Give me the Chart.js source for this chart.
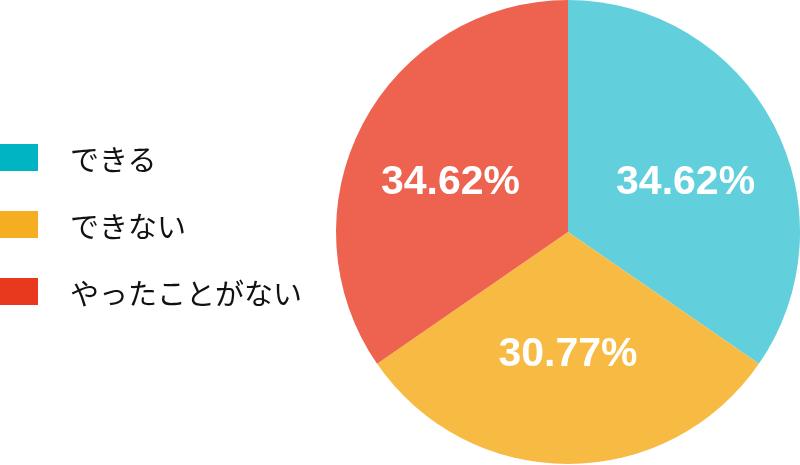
<!DOCTYPE html>
<html><head><meta charset="utf-8">
<script src="https://cdn.jsdelivr.net/npm/chart.js@4/dist/chart.umd.min.js"></script>
<style>
html,body{margin:0;padding:0;background:#fff;}
#wrap{position:relative;width:800px;height:465px;}
#c{position:absolute;left:0;top:0;}
.leg{position:absolute;left:0;display:flex;align-items:center;font-family:"Noto Sans CJK JP",sans-serif;font-size:29px;color:#111;}
.sw{width:38px;height:27px;margin-right:32px;}
</style></head>
<body>
<div id="wrap"><canvas id="c" width="800" height="465"></canvas><div id="legend"></div></div>
<script>
const categories = ["できる", "できない", "やったことがない"];
const values = [34.62, 30.77, 34.62];
const sliceColors = ["#62d0dc", "#f7bb44", "#ed634f"];
const legendColors = ["#00b4c4", "#f5ae22", "#e8391f"];

const legendTops = [144, 211, 278];
const lg = document.getElementById('legend');
categories.forEach((c, i) => {
  const d = document.createElement('div');
  d.className = 'leg';
  d.style.top = (legendTops[i] - 2) + 'px';
  d.style.height = '31px';
  d.innerHTML = '<div class="sw" style="background:' + legendColors[i] + '"></div><span>' + c + '</span>';
  lg.appendChild(d);
});

const labelPlugin = {
  id: 'labels',
  afterDatasetsDraw(chart) {
    const ctx = chart.ctx;
    const meta = chart.getDatasetMeta(0);
    ctx.save();
    ctx.fillStyle = '#fff';
    ctx.font = 'bold 41px "Liberation Sans", Arial, sans-serif';
    ctx.textAlign = 'center';
    ctx.textBaseline = 'middle';
    meta.data.forEach((arc, i) => {
      const p = arc.getProps(['x', 'y', 'startAngle', 'endAngle', 'outerRadius']);
      const mid = (p.startAngle + p.endAngle) / 2;
      const r = p.outerRadius * 0.54;
      const x = p.x + Math.cos(mid) * r * 1.06;
      const y = p.y + Math.sin(mid) * r * 0.94;
      ctx.fillText(values[i].toFixed(2) + '%', x, y + 5);
    });
    ctx.restore();
  }
};

new Chart(document.getElementById('c'), {
  type: 'pie',
  data: {
    labels: categories,
    datasets: [{ data: values, backgroundColor: sliceColors, borderWidth: 0 }]
  },
  options: {
    responsive: false,
    animation: false,
    layout: { padding: { left: 336, right: 0, top: 0, bottom: 1 } },
    plugins: { legend: { display: false }, tooltip: { enabled: false } }
  },
  plugins: [labelPlugin]
});
</script>
</body></html>
